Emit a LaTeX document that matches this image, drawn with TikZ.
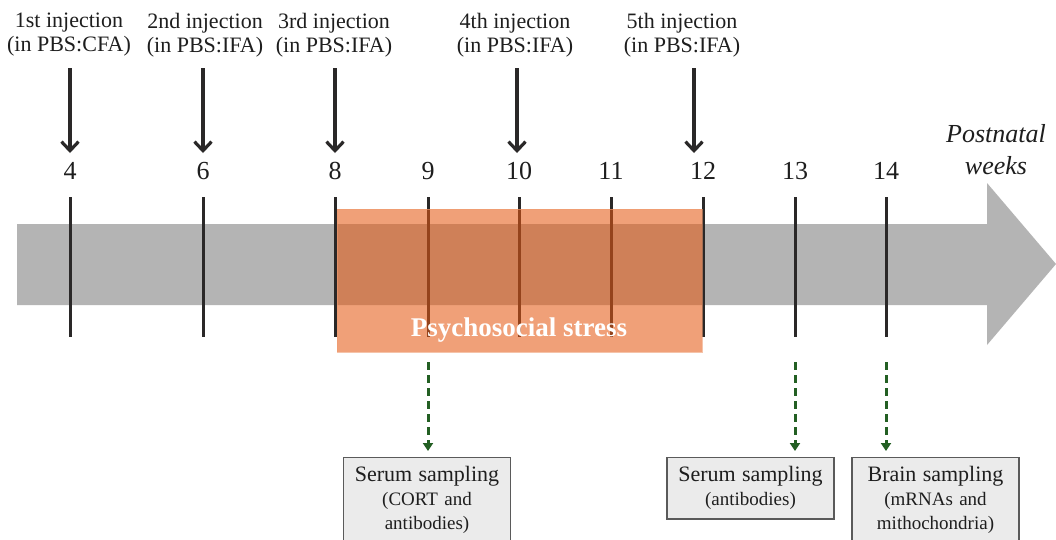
\documentclass[tikz,border=0pt]{standalone}
\usepackage{fontspec}
\setmainfont{Liberation Serif}
\usetikzlibrary{arrows.meta}
\definecolor{bargray}{RGB}{180,180,180}
\definecolor{stresscol}{RGB}{229,89,19}
\definecolor{tickcol}{RGB}{42,40,40}
\definecolor{dgreen}{RGB}{35,95,35}
\definecolor{boxfill}{RGB}{235,235,235}
\definecolor{boxline}{RGB}{90,90,90}
\definecolor{txtcol}{RGB}{30,30,30}
\begin{document}
\begin{tikzpicture}[x=1pt,y=-1pt,
  injlabel/.style={align=center,text=txtcol,inner sep=0pt,
    font=\fontsize{22}{24}\selectfont},
  weeknum/.style={text=txtcol,inner sep=0pt,font=\fontsize{26}{28}\selectfont},
  injarrow/.style={draw=tickcol,line width=3.2pt,
    -{Straight Barb[length=9pt,width=17pt,line width=3.2pt]}},
  tickline/.style={draw=tickcol,line width=3pt},
  samplearrow/.style={draw=dgreen,line width=3pt,dash pattern=on 8pt off 5pt,
    -{Triangle[length=8pt,width=10pt]}},
  samplebox/.style={draw=boxline,line width=1.4pt,fill=boxfill,anchor=north,
    minimum width=166pt,text width=160pt,align=center,inner ysep=9pt,
    text=txtcol,font=\fontsize{19}{24}\selectfont}
]
\clip (0,0) rectangle (1056,539);
\fill[white] (0,0) rectangle (1056,539);

% gray timeline arrow
\fill[bargray] (17,224) -- (987,224) -- (987,183) -- (1056,264)
  -- (987,345) -- (987,305) -- (17,305) -- cycle;

% week numbers and ticks
\foreach \w/\x in {4/70,6/203,8/335,9/428,10/519,11/611,12/703,13/795,14/886}{
  \node[weeknum] (n\w) at (\x,171) {\w};
  \coordinate (t\w top) at (\x,197);
  \coordinate (t\w bot) at (\x,337);
  \draw[tickline] (t\w top) -- (t\w bot);
}

% psychosocial stress block
\fill[stresscol,opacity=0.57] (337,209) rectangle (702,352);
\draw[stresscol!60,opacity=0.6,line width=0.8pt] (337,209) rectangle (702,352);
\node[text=white,inner sep=0pt,font=\fontsize{27}{29}\selectfont\bfseries]
  (stress) at (519,330) {Psychosocial stress};

% postnatal weeks
\node[align=center,text=txtcol,inner sep=0pt,
  font=\fontsize{26}{32}\selectfont\itshape] (pw) at (996,150) {Postnatal\\weeks};

% injections
\node[injlabel] (i1) at (69,35) {1st injection\\(in PBS:CFA)};
\node[injlabel] (i2) at (205,35) {2nd injection\\(in PBS:IFA)};
\node[injlabel] (i3) at (334,35) {3rd injection\\(in PBS:IFA)};
\node[injlabel] (i4) at (515,35) {4th injection\\(in PBS:IFA)};
\node[injlabel] (i5) at (682,35) {5th injection\\(in PBS:IFA)};
\foreach \k/\x in {1/70,2/203,3/335,4/517,5/694}{
  \coordinate (a\k top) at (\x,68);
  \coordinate (a\k tip) at (\x,153);
  \draw[injarrow] (a\k top) -- (a\k tip);
}

% sampling boxes
\node[samplebox] (b1) at (427,457)
  {{\fontsize{22}{24}\selectfont Serum sampling}\\(CORT and\\antibodies)};
\node[samplebox] (b2) at (750.5,457)
  {{\fontsize{22}{24}\selectfont Serum sampling}\\(antibodies)};
\node[samplebox] (b3) at (935.5,457)
  {{\fontsize{22}{24}\selectfont Brain sampling}\\(mRNAs and\\mithochondria)};

\foreach \k/\x in {1/428,2/795,3/886}{
  \coordinate (d\k top) at (\x,362);
  \coordinate (d\k tip) at (\x,451);
  \draw[samplearrow] (d\k top) -- (d\k tip);
}
\end{tikzpicture}
\end{document}
